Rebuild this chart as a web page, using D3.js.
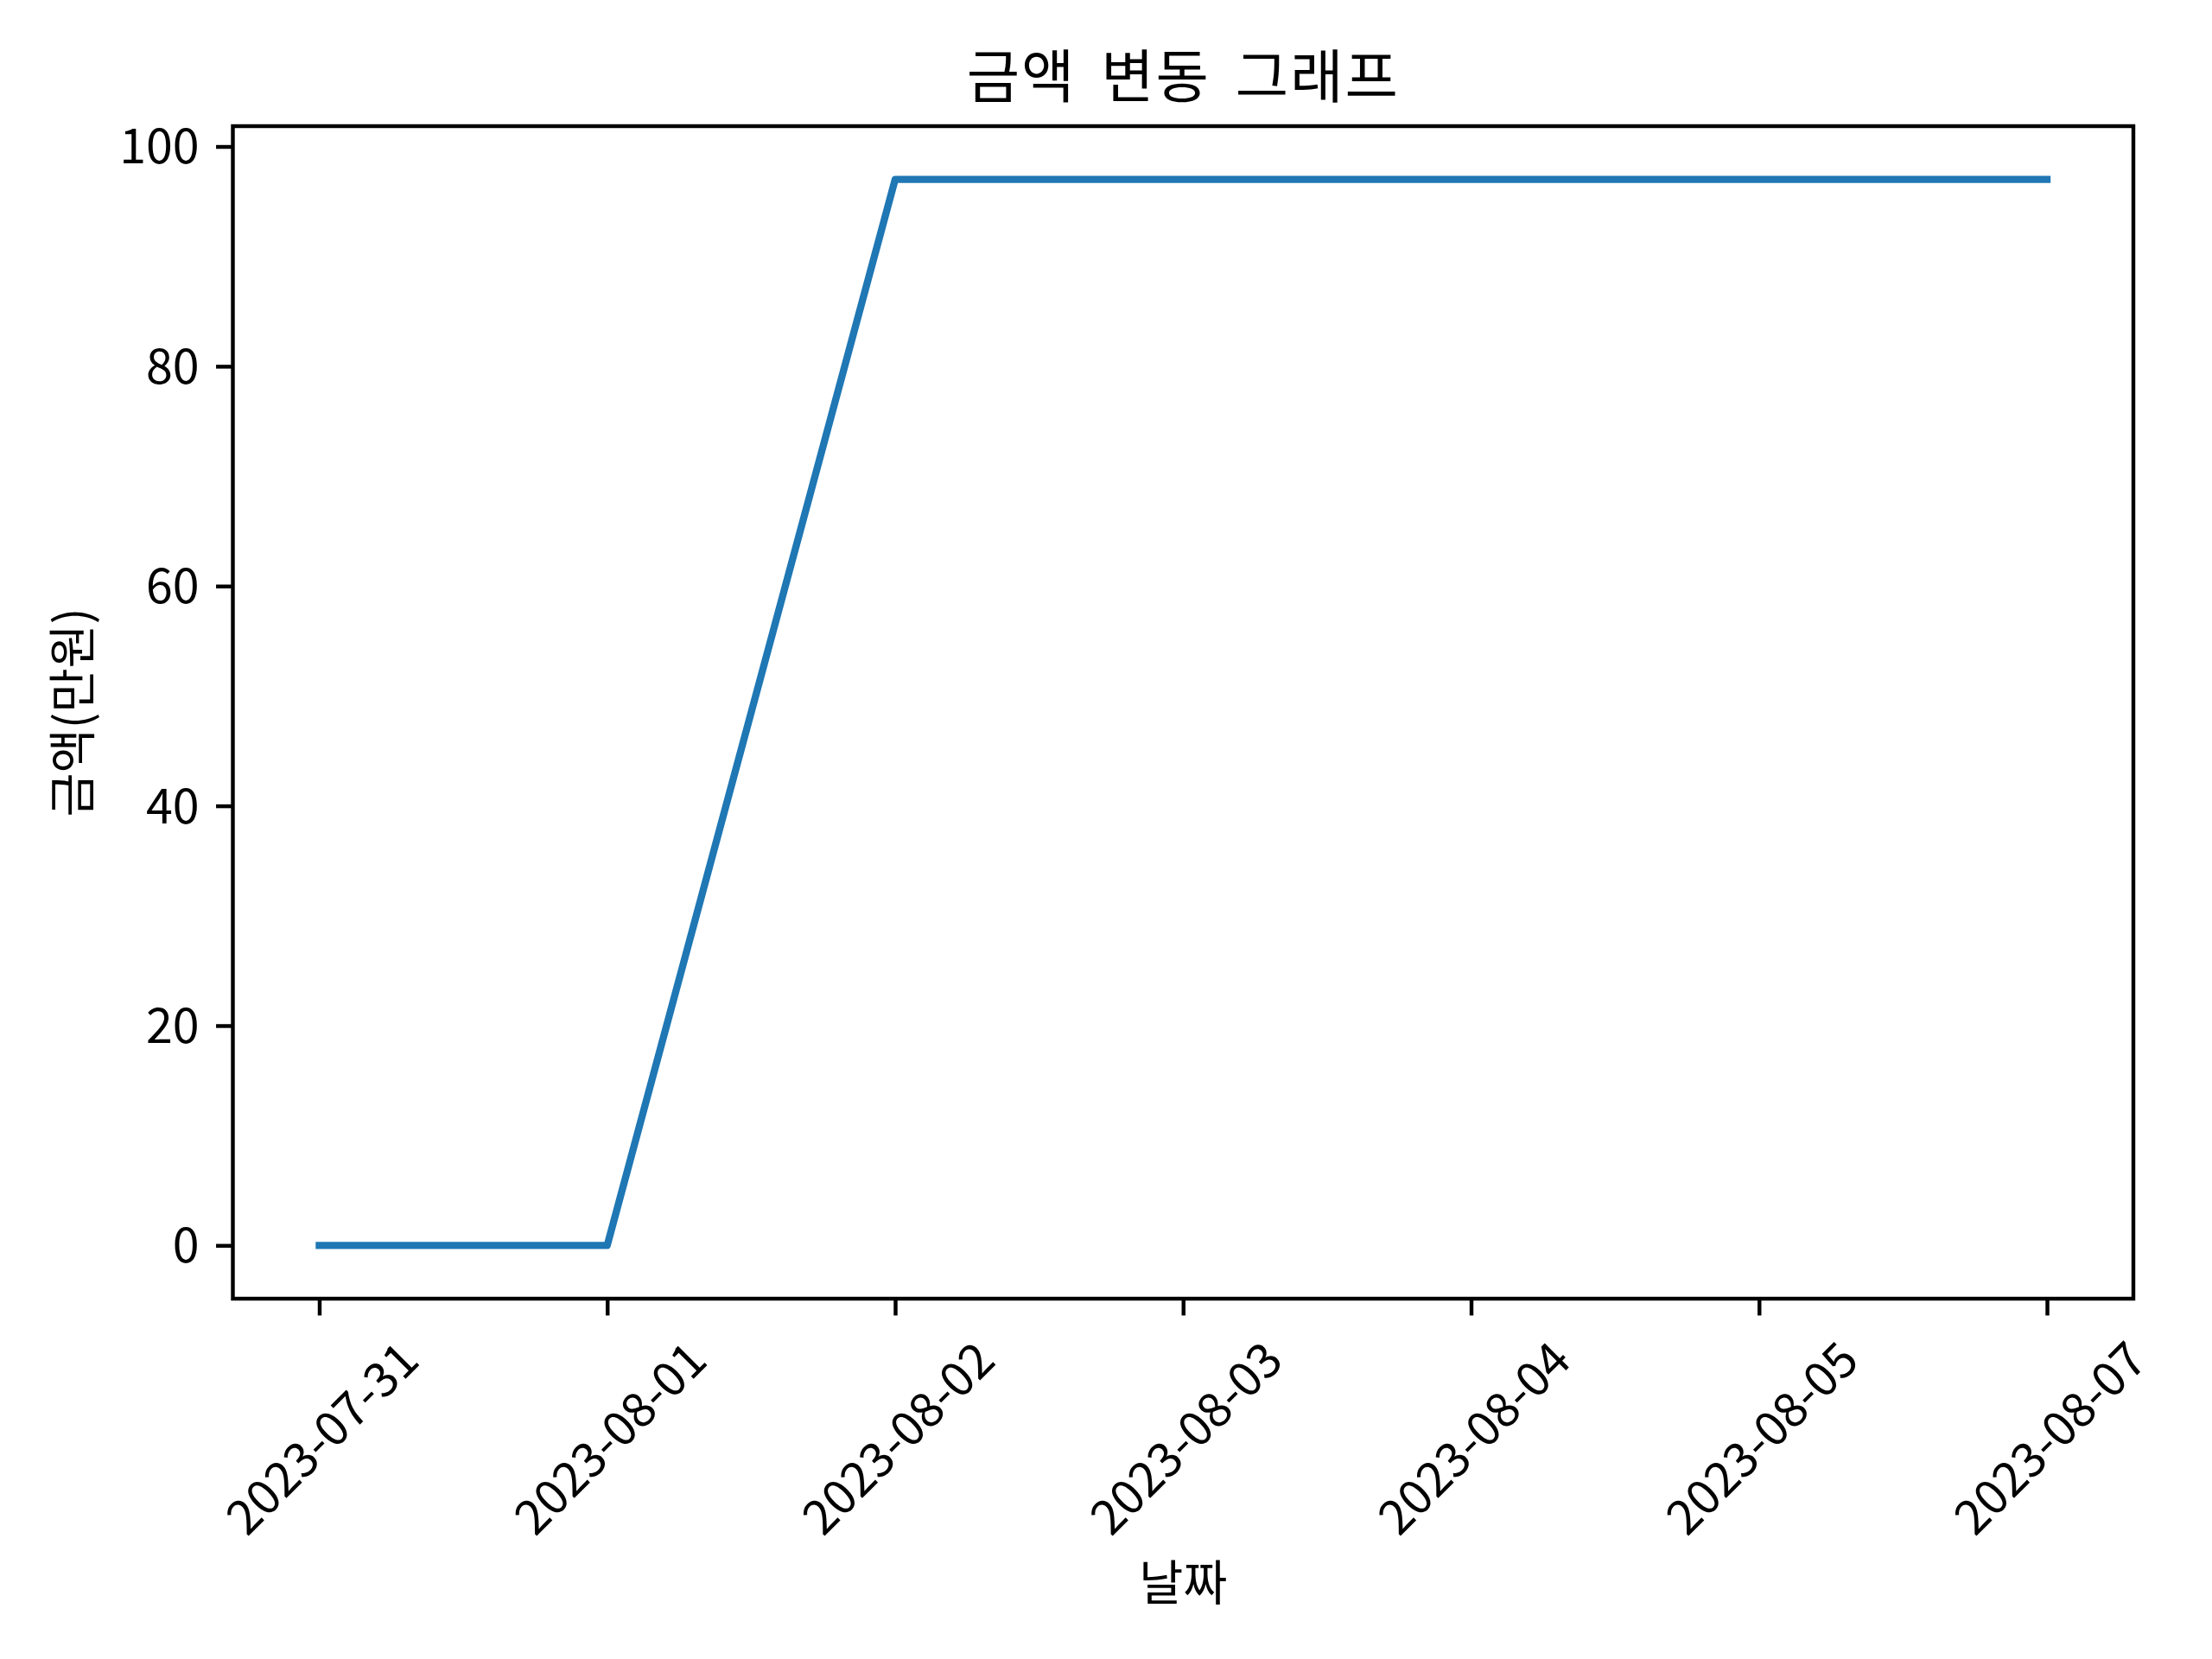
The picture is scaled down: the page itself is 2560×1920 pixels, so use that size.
<!DOCTYPE html>
<html>
<head>
<meta charset="utf-8">
<script src="https://cdn.jsdelivr.net/npm/d3@7"></script>
<style>
  body { margin: 0; background: #fff; }
  svg { display: block; }
  text { font-family: "Noto Sans CJK KR", "Noto Sans", sans-serif; fill: #000; }
</style>
</head>
<body>
<script>
// chart values
var dates = ["2023-07-31", "2023-08-01", "2023-08-02", "2023-08-03", "2023-08-04", "2023-08-05", "2023-08-07"];
var amounts = [0, 0, 97, 97, 97, 97, 97];
var y_ticks = [0, 20, 40, 60, 80, 100];
var title_text = "금액 변동 그래프";
var x_label = "날짜";
var y_label = "금액(만원)";

var svg_width = 2560;
var svg_height = 1920;
var plot = {left: 269.5, right: 2469, top: 146, bottom: 1503};
var pt = 400 / 72; // matplotlib dpi 400
var font_size = 10 * pt;

var svg = d3.select("body").append("svg")
    .attr("width", svg_width)
    .attr("height", svg_height);

var xscale = d3.scalePoint()
    .domain(dates)
    .range([plot.left, plot.right])
    .padding(0.3);

// 5% margin around 0..97
var y_min = d3.min(amounts), y_max = d3.max(amounts);
var y_pad = (y_max - y_min) * 0.05;
var yscale = d3.scaleLinear()
    .domain([y_min - y_pad, y_max + y_pad])
    .range([plot.bottom, plot.top]);

//---x axis
var xaxis = d3.axisBottom(xscale)
    .tickSize(3.5 * pt)
    .tickPadding(3.5 * pt);
var gx = svg.append("g")
    .attr("transform", "translate(0," + plot.bottom + ")")
    .call(xaxis);
gx.select(".domain").remove();
gx.selectAll(".tick line").attr("stroke", "#000").attr("stroke-width", 0.8 * pt);
gx.selectAll(".tick text")
    .attr("font-size", font_size)
    .attr("text-anchor", "middle")
    .attr("dominant-baseline", "central")
    .attr("y", null)
    .attr("dy", null)
    .each(function()
    {
        // rotate 45deg, then put the top of the rotated box below the tick
        var w = this.getComputedTextLength();
        var h = font_size * 0.95;
        var box_h = (w + h) / Math.SQRT2;
        var top = 7 * pt;
        d3.select(this).attr("transform", "translate(0," + (top + box_h / 2) + ") rotate(-45)");
    });

//---y axis
var yaxis = d3.axisLeft(yscale)
    .tickValues(y_ticks)
    .tickSize(3.5 * pt)
    .tickPadding(3.5 * pt);
var gy = svg.append("g")
    .attr("transform", "translate(" + plot.left + ",0)")
    .call(yaxis);
gy.select(".domain").remove();
gy.selectAll(".tick line").attr("stroke", "#000").attr("stroke-width", 0.8 * pt);
gy.selectAll(".tick text")
    .attr("font-size", font_size)
    .attr("dy", "0.35em");

//---line
var line = d3.line()
    .x(function(d, i) { return xscale(dates[i]); })
    .y(function(d) { return yscale(d); });
svg.append("path")
    .datum(amounts)
    .attr("d", line)
    .attr("fill", "none")
    .attr("stroke", "#1f77b4")
    .attr("stroke-width", 1.5 * pt)
    .attr("stroke-linecap", "square")
    .attr("stroke-linejoin", "round");

//---frame
svg.append("rect")
    .attr("x", plot.left)
    .attr("y", plot.top)
    .attr("width", plot.right - plot.left)
    .attr("height", plot.bottom - plot.top)
    .attr("fill", "none")
    .attr("stroke", "#000")
    .attr("stroke-width", 0.8 * pt);

//---labels
svg.append("text")
    .attr("x", (plot.left + plot.right) / 2)
    .attr("y", plot.top - 6 * pt)
    .attr("text-anchor", "middle")
    .attr("font-size", 12 * pt)
    .attr("word-spacing", 12)
    .attr("letter-spacing", 2)
    .text(title_text);

svg.append("text")
    .attr("x", (plot.left + plot.right) / 2)
    .attr("y", 1852)
    .attr("text-anchor", "middle")
    .attr("font-size", font_size)
    .text(x_label);

svg.append("text")
    .attr("transform", "translate(104," + ((plot.top + plot.bottom) / 2) + ") rotate(-90)")
    .attr("text-anchor", "middle")
    .attr("font-size", font_size)
    .text(y_label);
</script>
</body>
</html>
